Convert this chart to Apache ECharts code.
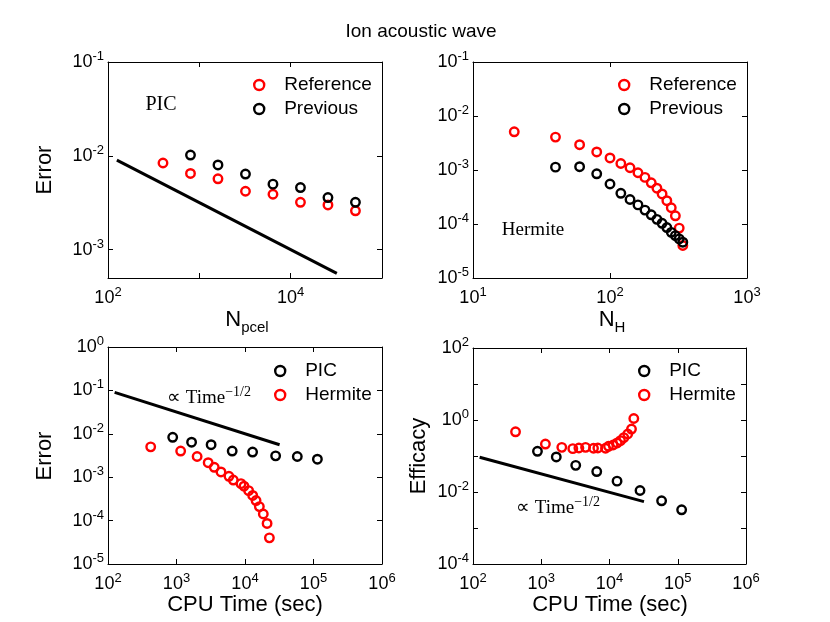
<!DOCTYPE html>
<html><head><meta charset="utf-8">
<script src="https://cdn.jsdelivr.net/npm/echarts@6/dist/echarts.min.js"></script>
<style>html,body{margin:0;padding:0;background:#fff}#c{width:830px;height:622px}</style>
</head><body><div id="c"></div>
<script>
// ---------- DATA ----------
// Top-left: PIC error vs N_pcel
const tlRefX  = [400, 800, 1600, 3200, 6400, 12800, 25600, 51200];
const tlRefY  = [8.4e-3, 6.5e-3, 5.7e-3, 4.2e-3, 3.9e-3, 3.2e-3, 3.0e-3, 2.6e-3];
const tlPrevX = [800, 1600, 3200, 6400, 12800, 25600, 51200];
const tlPrevY = [1.02e-2, 8.0e-3, 6.4e-3, 5.0e-3, 4.6e-3, 3.6e-3, 3.2e-3];
const tlFitX  = [125, 32000];
const tlFitY  = [9.0e-3, 5.6e-4];
// Top-right: Hermite error vs N_H
const trRefX  = [20, 40, 60, 80, 100, 120, 140, 160, 180, 200, 220, 240, 260, 280, 300, 320, 340];
const trRefY  = [5.1e-3, 4.07e-3, 2.94e-3, 2.16e-3, 1.67e-3, 1.32e-3, 1.10e-3, 8.9e-4, 7.3e-4, 5.8e-4, 4.6e-4, 3.6e-4, 2.7e-4, 2.0e-4, 1.42e-4, 8.4e-5, 4.0e-5];
const trPrevX = [40, 60, 80, 100, 120, 140, 160, 180, 200, 220, 240, 260, 280, 300, 320, 340];
const trPrevY = [1.13e-3, 1.15e-3, 8.5e-4, 5.5e-4, 3.7e-4, 2.84e-4, 2.26e-4, 1.81e-4, 1.48e-4, 1.22e-4, 1.03e-4, 8.6e-5, 7.0e-5, 6.1e-5, 5.3e-5, 4.6e-5];
// Bottom: CPU time
const picCpu  = [880, 1660, 3200, 6500, 12900, 28000, 58000, 114000];
const herCpu  = [420, 1150, 2000, 2900, 3560, 4460, 5830, 6750, 8740, 9670, 11300, 12950, 14500, 16200, 18500, 21000, 22700];
const blPicY  = [8.3e-3, 6.4e-3, 5.6e-3, 4.0e-3, 3.8e-3, 3.1e-3, 3.0e-3, 2.6e-3];
const blHerY  = [5.0e-3, 4.0e-3, 3.0e-3, 2.16e-3, 1.69e-3, 1.32e-3, 1.05e-3, 8.6e-4, 7.1e-4, 6.2e-4, 4.9e-4, 3.8e-4, 2.9e-4, 2.1e-4, 1.42e-4, 8.6e-5, 4.0e-5];
const blFitX  = [125, 32000];
const blFitY  = [0.09, 5.6e-3];
const brPicY  = [0.135, 0.094, 0.055, 0.037, 0.020, 0.011, 5.7e-3, 3.2e-3];
const brHerY  = [0.47, 0.215, 0.174, 0.16, 0.167, 0.174, 0.164, 0.167, 0.164, 0.186, 0.202, 0.23, 0.267, 0.323, 0.408, 0.56, 1.1];
const brFitX  = [125, 32000];
const brFitY  = [0.092, 5.4e-3];
// Axis ranges
const tlXRange = [1e2, 1e5], tlYRange = [5e-4, 1e-1];
const trXRange = [1e1, 1e3], trYRange = [1e-5, 1e-1];
const blXRange = [1e2, 1e6], blYRange = [1e-5, 1e0];
const brXRange = [1e2, 1e6], brYRange = [1e-4, 1e2];

// ---------- CHART ----------
const FONT = '"Liberation Sans", Arial, Helvetica, sans-serif';
const SERIF = '"Liberation Serif", "Times New Roman", serif';
const RED = '#ff0000', BLACK = '#000000';
const chart = echarts.init(document.getElementById('c'), null, {renderer: 'canvas'});
const zip = (xs, ys) => xs.map((x, i) => [x, ys[i]]);

const labelRich = {
  b: {fontSize: 18, fontFamily: FONT, color: '#000', lineHeight: 24},
  e: {fontSize: 13, fontFamily: FONT, color: '#000', verticalAlign: 'top', lineHeight: 13}
};
function expFormatter(step) {
  return function (v) {
    const l = Math.log10(v), e = Math.round(l);
    if (Math.abs(l - e) > 1e-6) return '';
    if (((e % step) + step) % step !== 0) return '';
    return '{b|10}{e|' + e + '}';
  };
}
function axes(isX, grid, range, step) {
  const common = {
    type: 'log', logBase: 10, gridIndex: grid, min: range[0], max: range[1],
    axisLine: {show: true, onZero: false, lineStyle: {color: '#000', width: 1}},
    axisTick: {show: true, inside: true, length: 5, lineStyle: {color: '#000', width: 1}},
    splitLine: {show: false}, minorTick: {show: false}, minorSplitLine: {show: false}
  };
  const main = Object.assign({}, common, {
    position: isX ? 'bottom' : 'left',
    axisLabel: {show: true, formatter: expFormatter(step), rich: labelRich, margin: isX ? 8 : 4, showMinLabel: true, showMaxLabel: true, hideOverlap: false}
  });
  const mirror = Object.assign({}, common, {
    position: isX ? 'top' : 'right', axisLabel: {show: false}
  });
  return [main, mirror];
}
const grids = [
  {left: 108, top: 62, width: 274, height: 216},
  {left: 473, top: 62, width: 274, height: 216},
  {left: 108, top: 347, width: 274, height: 217},
  {left: 473, top: 348, width: 273, height: 216}
].map(g => Object.assign(g, {containLabel: false, outerBoundsMode: 'none'}));

const xAxes = [].concat(axes(true, 0, tlXRange, 2), axes(true, 1, trXRange, 1), axes(true, 2, blXRange, 1), axes(true, 3, brXRange, 1));
const yAxes = [].concat(axes(false, 0, tlYRange, 1), axes(false, 1, trYRange, 1), axes(false, 2, blYRange, 1), axes(false, 3, brYRange, 2));

function scatter(name, idx, xs, ys, color) {
  return {type: 'scatter', name, xAxisIndex: idx * 2, yAxisIndex: idx * 2, data: zip(xs, ys),
    symbol: 'circle', symbolSize: 8.5,
    itemStyle: {color: 'rgba(0,0,0,0)', borderColor: color, borderWidth: 2.4, opacity: 1},
    emphasis: {disabled: true}, z: 3};
}
function fit(name, idx, xs, ys) {
  return {type: 'line', name, xAxisIndex: idx * 2, yAxisIndex: idx * 2, data: zip(xs, ys),
    symbol: 'none', showSymbol: false, lineStyle: {color: '#000', width: 3}, emphasis: {disabled: true}, z: 2};
}
function legend(items, left, top) {
  return {
    data: items.map(([n, c]) => ({name: n, itemStyle: {color: 'rgba(0,0,0,0)', borderColor: c, borderWidth: 2.4}})),
    orient: 'vertical', left, top, itemWidth: 40, itemHeight: 10, itemGap: 4, icon: 'circle',
    selectedMode: false, padding: 0,
    textStyle: {fontSize: 19, fontFamily: FONT, color: '#000', lineHeight: 20}
  };
}
function txt(text, x, y, size, font, rotation) {
  return {type: 'text', x, y, rotation: rotation || 0,
    style: {text, fontSize: size, fontFamily: font, fill: '#000', textAlign: 'center', textVerticalAlign: 'middle'}};
}
function richTxt(text, x, y, rich, rotation) {
  return {type: 'text', x, y, rotation: rotation || 0,
    style: {text, rich, fill: '#000', textAlign: 'center', textVerticalAlign: 'middle'}};
}
const propRich = {
  a: {fontSize: 19, fontFamily: SERIF, color: '#000', lineHeight: 26},
  s: {fontSize: 14, fontFamily: SERIF, color: '#000', verticalAlign: 'top', lineHeight: 14}
};
const subRich = {
  n: {fontSize: 22, fontFamily: FONT, color: '#000', lineHeight: 30},
  s: {fontSize: 15, fontFamily: FONT, color: '#000', verticalAlign: 'bottom', lineHeight: 15}
};

const option = {
  animation: false,
  backgroundColor: '#fff',
  grid: grids,
  xAxis: xAxes,
  yAxis: yAxes,
  legend: [
    legend([['Reference', RED], ['Previous', BLACK]], 253, 75),
    legend([['Reference', RED], ['Previous', BLACK]], 618, 75),
    legend([['PIC', BLACK], ['Hermite', RED]], 274, 361),
    legend([['PIC', BLACK], ['Hermite', RED]], 638, 361)
  ],
  series: [
    fit('tlFit', 0, tlFitX, tlFitY),
    scatter('Reference', 0, tlRefX, tlRefY, RED),
    scatter('Previous', 0, tlPrevX, tlPrevY, BLACK),
    scatter('Reference', 1, trRefX, trRefY, RED),
    scatter('Previous', 1, trPrevX, trPrevY, BLACK),
    fit('blFit', 2, blFitX, blFitY),
    scatter('PIC', 2, picCpu, blPicY, BLACK),
    scatter('Hermite', 2, herCpu, blHerY, RED),
    fit('brFit', 3, brFitX, brFitY),
    scatter('PIC', 3, picCpu, brPicY, BLACK),
    scatter('Hermite', 3, herCpu, brHerY, RED)
  ],
  graphic: [
    txt('Ion acoustic wave', 421, 32, 19, FONT),
    txt('PIC', 161, 105, 20, SERIF),
    txt('Hermite', 533, 230, 19, SERIF),
    richTxt('{a|\u221D Time}{s|\u22121/2}', 209, 398, propRich),
    richTxt('{a|\u221D Time}{s|\u22121/2}', 558, 508, propRich),
    txt('Error', 45, 170, 22, FONT, Math.PI / 2),
    txt('Error', 45, 456, 22, FONT, Math.PI / 2),
    txt('Efficacy', 419, 456, 22, FONT, Math.PI / 2),
    richTxt('{n|N}{s|pcel}', 247, 320, subRich),
    richTxt('{n|N}{s|H}', 612, 320, subRich),
    txt('CPU Time (sec)', 245, 605, 22, FONT),
    txt('CPU Time (sec)', 610, 605, 22, FONT)
  ]
};
chart.setOption(option);
</script>
</body></html>
